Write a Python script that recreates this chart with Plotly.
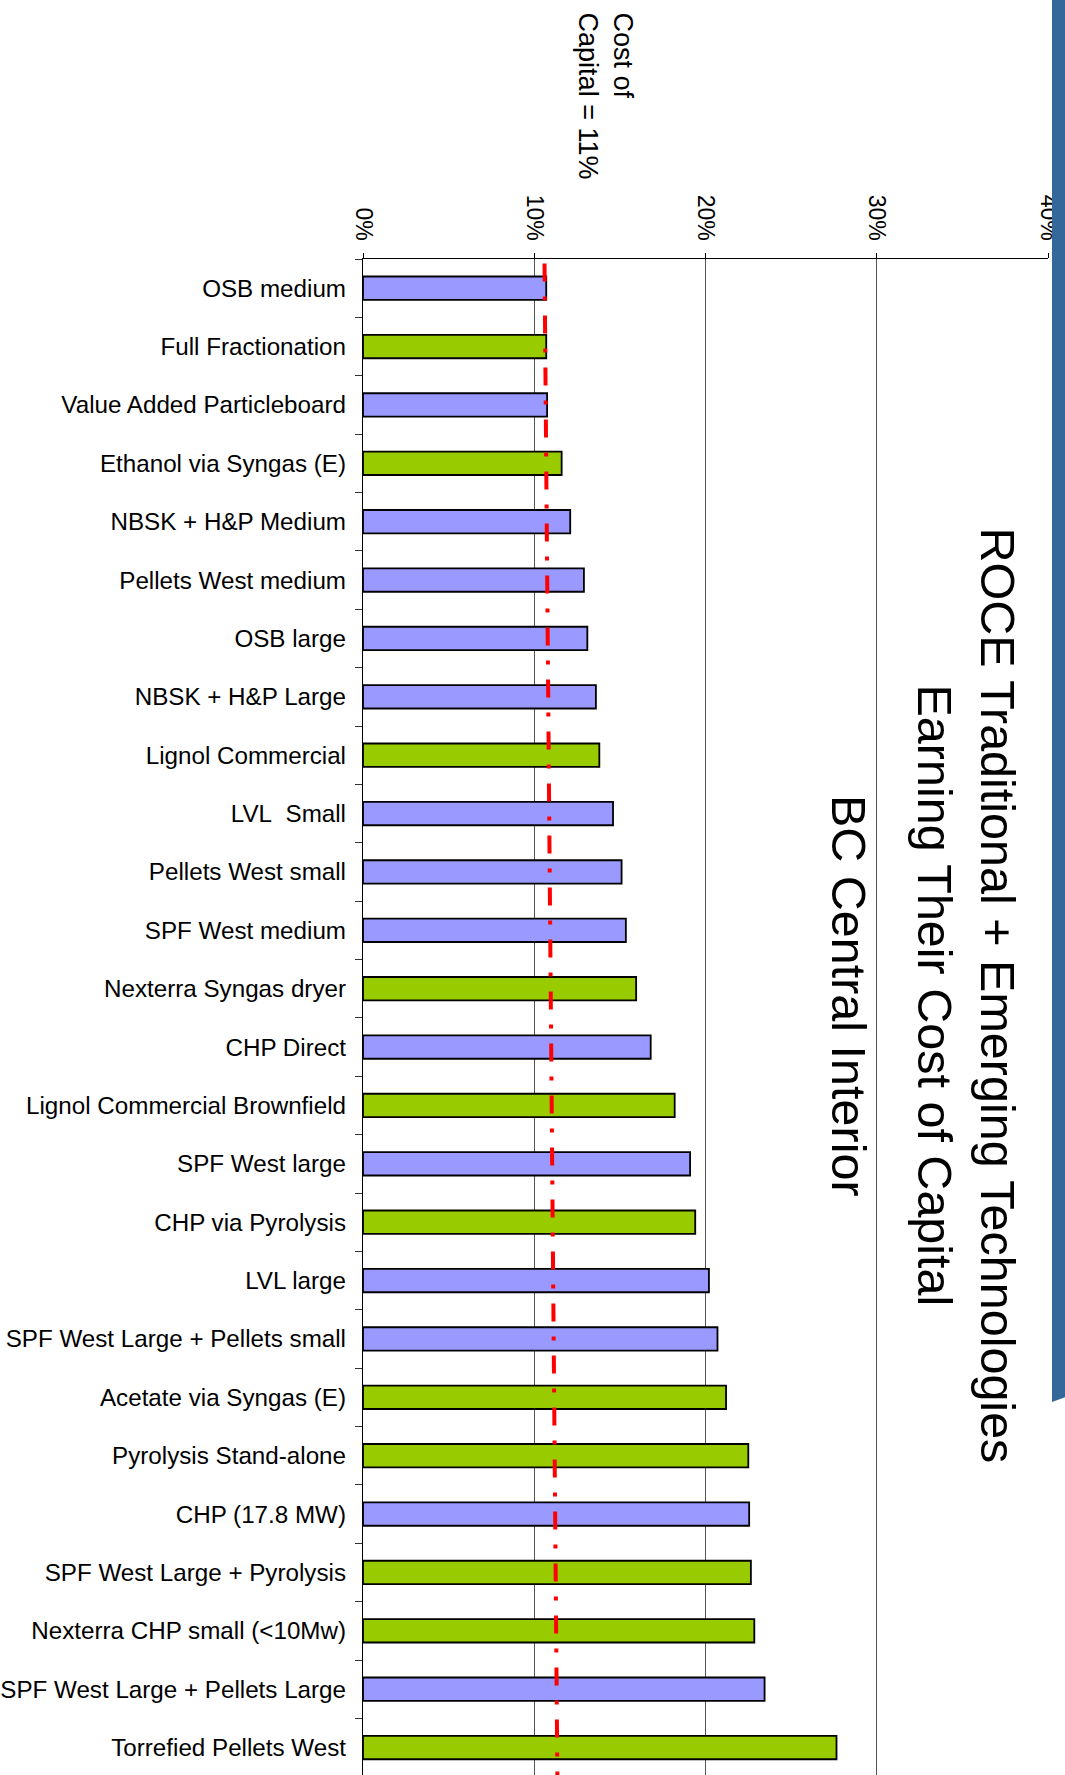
import plotly.graph_objects as go

# ---------------- data ----------------
categories = [
    "OSB medium", "Full Fractionation", "Value Added Particleboard",
    "Ethanol via Syngas (E)", "NBSK + H&P Medium", "Pellets West medium",
    "OSB large", "NBSK + H&P Large", "Lignol Commercial", "LVL\u00a0 Small",
    "Pellets West small", "SPF West medium", "Nexterra Syngas dryer",
    "CHP Direct", "Lignol Commercial Brownfield", "SPF West large",
    "CHP via Pyrolysis", "LVL large", "SPF West Large + Pellets small",
    "Acetate via Syngas (E)", "Pyrolysis Stand-alone", "CHP (17.8 MW)",
    "SPF West Large + Pyrolysis", "Nexterra CHP small (<10Mw)",
    "SPF West Large + Pellets Large", "Torrefied Pellets West",
]
roce = [
    10.7, 10.7, 10.75, 11.6, 12.1, 12.9, 13.1, 13.6, 13.8, 14.6,
    15.1, 15.35, 15.95, 16.8, 18.2, 19.1, 19.4, 20.2, 20.7, 21.2,
    22.5, 22.55, 22.65, 22.85, 23.45, 27.65,
]
tech_type = [
    "T", "E", "T", "E", "T", "T", "T", "T", "E", "T",
    "T", "T", "E", "T", "E", "T", "E", "T", "T", "E",
    "E", "T", "E", "E", "T", "E",
]
cost_of_capital_line = [10.6, 11.35]   # x at top / bottom of plot (as drawn)
x_ticks = [0, 10, 20, 30, 40]
x_tick_labels = ["0%", "10%", "20%", "30%", "40%"]

COLORS = {"T": "#9999FF", "E": "#99CC00"}

fig = go.Figure()
fig.add_trace(go.Bar(
    y=categories,
    x=roce,
    orientation="h",
    width=0.4,
    marker=dict(color=[COLORS[t] for t in tech_type],
                line=dict(color="black", width=1.8)),
    showlegend=False,
))

# cost of capital line
fig.add_shape(type="line", xref="x", yref="paper",
              x0=cost_of_capital_line[0], x1=cost_of_capital_line[1],
              y0=0.997, y1=0,
              line=dict(color="#FF0000", width=4, dash="18px,15px,4px,15px"),
              layer="above")

# slide border (blue band on the right)
fig.add_shape(type="path", xref="paper", yref="paper",
              path="M 1.0058,1.18 L 1.03,1.18 L 1.03,0.25 L 1.0058,0.246 Z",
              fillcolor="#34679A", line=dict(width=0), layer="above")

font_family = "Liberation Sans, Arial, sans-serif"

fig.add_annotation(
    xref="paper", yref="paper", x=0.881, y=0.5139,
    xanchor="center", yanchor="middle",
    text="ROCE Traditional + Emerging Technologies<br>Earning Their Cost of Capital",
    textangle=90, showarrow=False, align="center",
    font=dict(family=font_family, size=48.5, color="black"),
)
fig.add_annotation(
    xref="paper", yref="paper", x=0.7095, y=0.5139,
    xanchor="center", yanchor="middle",
    text="BC Central Interior",
    textangle=90, showarrow=False, align="center",
    font=dict(family=font_family, size=48.5, color="black"),
)
fig.add_annotation(
    xref="paper", yref="paper", x=0.3554, y=1.1075,
    xanchor="center", yanchor="middle",
    text="Cost of<br>Capital = 11%",
    textangle=90, showarrow=False, align="left",
    font=dict(family=font_family, size=27, color="black"),
)

fig.update_layout(
    width=1065, height=1775,
    margin=dict(l=363, r=17, t=259, b=0, pad=0),
    paper_bgcolor="white", plot_bgcolor="white",
    font=dict(family=font_family, color="black"),
    bargap=0.6,
    xaxis=dict(
        side="top", range=[0, 40], tickvals=x_ticks, ticktext=x_tick_labels,
        tickangle=90, ticks="outside", ticklen=5, tickcolor="black",
        tickfont=dict(size=23, family=font_family, color="black"),
        showline=True, linecolor="black", linewidth=1.3,
        showgrid=True, gridcolor="#555555", gridwidth=1,
        zeroline=False, automargin=False, ticklabelstandoff=4,
    ),
    yaxis=dict(
        type="category", range=[25.47, -0.5],
        tickson="boundaries", ticks="outside", ticklen=7, tickcolor="#333333",
        tickfont=dict(size=24.2, family=font_family, color="black"),
        showline=True, linecolor="black", linewidth=1.3,
        showgrid=False, zeroline=False, automargin=False,
        ticklabelstandoff=11,
    ),
)

fig.write_html(
    "out.html",
    config={"displayModeBar": False},
    post_script="document.body.style.margin='0';document.body.style.padding='0';"
                "document.body.style.overflow='hidden';",
)
